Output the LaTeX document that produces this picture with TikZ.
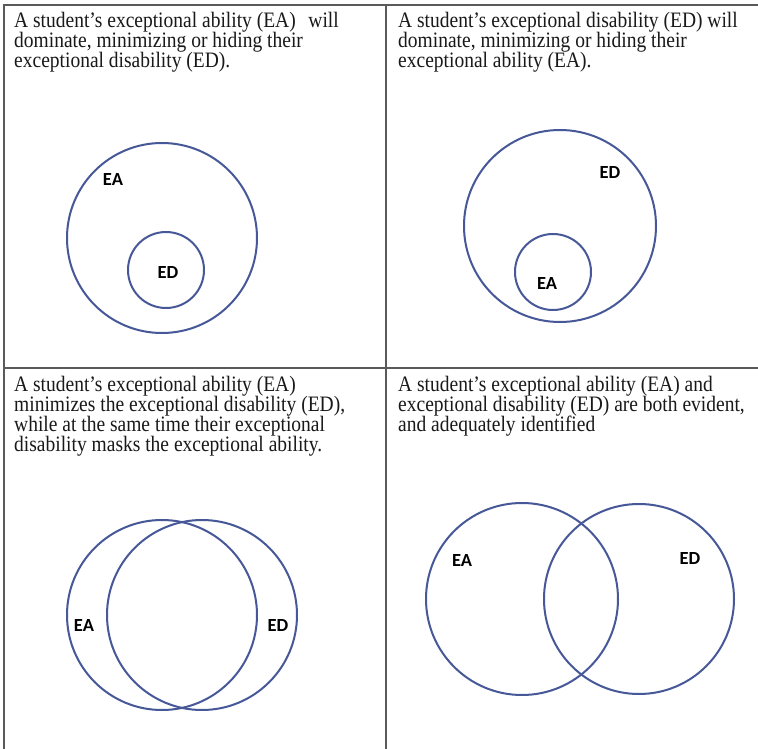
\documentclass[tikz,border=0pt]{standalone}
\usepackage{graphicx}
\usepackage{fontspec}
\setmainfont{Liberation Serif}
\newfontfamily\lblfont{Carlito}
\definecolor{circblue}{RGB}{70,88,152}
\definecolor{framegray}{RGB}{90,90,90}
\definecolor{textdark}{RGB}{25,25,25}
\newcommand\desctext[1]{\scalebox{1}[1.13]{\vtop{\lineskiplimit=-20pt\baselineskip=17.7pt\halign{##\hfil\cr#1\crcr}}}}
\begin{document}
\begin{tikzpicture}[x=1pt,y=-1pt,
  desc/.style={anchor=base west, inner sep=0pt, text=textdark,
    font=\fontsize{19.5}{17.7}\selectfont},
  lbl/.style={inner sep=0pt, text=black, font=\lblfont\bfseries\fontsize{18.5}{20}\selectfont},
  venn/.style={draw=circblue, line width=2pt, circle, inner sep=0pt, minimum size=#1},
  gridline/.style={draw=framegray, line width=1.5pt}
]
\useasboundingbox[fill=white] (0,0) rectangle (758,749);

% frame
\coordinate (tl) at (4,5);
\coordinate (tr) at (758,5);
\coordinate (bl) at (4,749);
\coordinate (tm) at (386,5);
\coordinate (bm) at (386,749);
\coordinate (ml) at (4,368);
\coordinate (mr) at (758,368);
\draw[gridline] (tr) -- (tl) -- (bl);
\draw[gridline] (tm) -- (bm);
\draw[gridline] (ml) -- (mr);

% texts
\node[desc] (t1) at (14,27.5) {\desctext{A student’s exceptional ability (EA)\hspace{0.65em}will\cr dominate, minimizing or hiding their\cr exceptional disability (ED).}};
\node[desc] (t2) at (398,27.5) {\desctext{A student’s exceptional disability (ED) will\cr dominate, minimizing or hiding their\cr exceptional ability (EA).}};
\node[desc] (t3) at (14,391.5) {\desctext{A student’s exceptional ability (EA)\cr minimizes the exceptional disability (ED),\cr while at the same time their exceptional\cr disability masks the exceptional ability.}};
\node[desc] (t4) at (398,391.5) {\desctext{A student’s exceptional ability (EA) and\cr exceptional disability (ED) are both evident,\cr and adequately identified}};

% panel 1
\node[venn=190pt] (p1big) at (162,238) {};
\node[venn=76pt] (p1small) at (166,270) {};
\node[lbl] (p1ea) at (113,180) {EA};
\node[lbl] (p1ed) at (168,273) {ED};

% panel 2
\node[venn=192pt] (p2big) at (560,226) {};
\node[venn=76pt] (p2small) at (553,272) {};
\node[lbl] (p2ed) at (610,173) {ED};
\node[lbl] (p2ea) at (547,284) {EA};

% panel 3
\node[venn=190pt] (p3a) at (162,615) {};
\node[venn=190pt] (p3b) at (202,615) {};
\node[lbl] (p3ea) at (84,625) {EA};
\node[lbl] (p3ed) at (278,625) {ED};

% panel 4
\node[venn=192pt] (p4a) at (522,599) {};
\node[venn=190pt] (p4b) at (639,599) {};
\node[lbl] (p4ea) at (462,560) {EA};
\node[lbl] (p4ed) at (690,558) {ED};
\end{tikzpicture}
\end{document}
